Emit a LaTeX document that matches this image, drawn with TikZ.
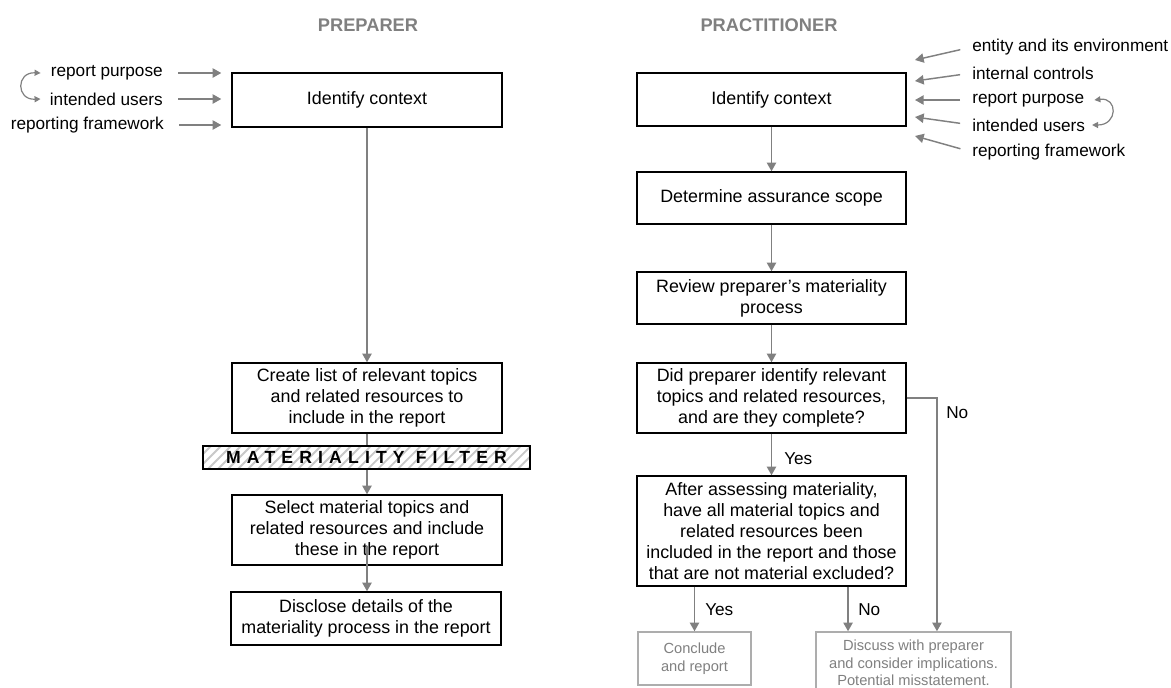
\documentclass[tikz,border=0pt]{standalone}
\usepackage{fontspec}
\setmainfont{Liberation Sans}
\usetikzlibrary{arrows.meta,patterns.meta}
\definecolor{ag}{HTML}{808080}
\definecolor{lg}{HTML}{ADADAD}
\definecolor{hg}{HTML}{C8C8C8}
\begin{document}
\begin{tikzpicture}[x=0.75pt,y=-0.75pt,
  box/.style={draw=black, line width=1.1pt, align=center, inner sep=0pt, font=\fontsize{13.4}{15.7}\selectfont},
  lbox/.style={draw=lg, line width=1.1pt, text=ag, align=center, inner sep=0pt, font=\fontsize{11}{13.2}\selectfont},
  arr/.style={draw=ag, line width=1.1pt, -{Triangle[length=6.5pt,width=7pt]}},
  seg/.style={draw=ag, line width=1.1pt},
  curv/.style={draw=ag, line width=0.9pt, {Triangle[length=4.5pt,width=4.5pt]}-{Triangle[length=4.5pt,width=4.5pt]}},
  lbl/.style={inner sep=0pt, font=\fontsize{12.9}{15}\selectfont},
  ttl/.style={text=ag, inner sep=0pt, font=\bfseries\fontsize{13.7}{16}\selectfont}]
\useasboundingbox (0,0) rectangle (1171,687);
\clip (0,0) rectangle (1171,687);

% titles
\node[ttl] (tprep) at (368,25) {PREPARER};
\node[ttl] (tprac) at (769,25) {PRACTITIONER};

% ---------- PREPARER ----------
\node[box, minimum width=202.5pt, minimum height=40.5pt] (lid) at (367,100) {Identify context};
\node[lbl, anchor=east] (lt1) at (163,73) {report purpose};
\node[lbl, anchor=east] (lt2) at (163,99) {intended users};
\node[lbl, anchor=east] (lt3) at (164,125) {reporting framework};
\draw[arr, shorten <=11.25pt, shorten >=7.5pt] (lt1.east) -- (lt1.east -| lid.west);
\draw[arr, shorten <=11.25pt, shorten >=7.5pt] (lt2.east) -- (lt2.east -| lid.west);
\draw[arr, shorten <=11.25pt, shorten >=7.5pt] (lt3.east) -- (lt3.east -| lid.west);
\draw[curv] ([xshift=-7.5pt]lt1.west) .. controls (16,72) and (16,100) .. ([xshift=-6.8pt]lt2.west);

\node[box, minimum width=202.5pt, minimum height=52.5pt] (lcr) at (367,398)
  {Create list of relevant topics\\and related resources to\\include in the report};
\node[draw=black, line width=1.1pt, inner sep=0pt, minimum width=245.25pt, minimum height=17.25pt,
  pattern={Lines[angle=45,distance=5.3pt,line width=1.4pt]}, pattern color=hg] (flt) at (366.5,457.5)
  {\bfseries\fontsize{13.2}{14}\selectfont\addfontfeature{LetterSpace=35}MATERIALITY FILTER};
\node[box, minimum width=202.5pt, minimum height=52.5pt] (lsel) at (367,530)
  {Select material topics and\\related resources and include\\these in the report};
\node[box, minimum width=202.5pt, minimum height=39.75pt] (ldis) at (366,618.5)
  {Disclose details of the\\materiality process in the report};

\draw[arr] (lid.south) -- (lcr.north);
\draw[seg] (lcr.south) -- (lcr.south |- flt.north);
\draw[arr] (lcr.south |- flt.south) -- (lsel.north);
\draw[arr] ([yshift=15pt]lsel.south) -- (lsel.south |- ldis.north);

% ---------- PRACTITIONER ----------
\node[box, minimum width=201.75pt, minimum height=39.75pt] (rid) at (771.5,99.5) {Identify context};
\node[box, minimum width=201.75pt, minimum height=39pt] (rdet) at (771.5,198) {Determine assurance scope};
\node[box, minimum width=201.75pt, minimum height=39pt] (rrev) at (771.5,298)
  {Review preparer’s materiality\\process};
\node[box, minimum width=201.75pt, minimum height=52.5pt] (rdid) at (771.5,398)
  {Did preparer identify relevant\\topics and related resources,\\and are they complete?};
\node[box, minimum width=201.75pt, minimum height=82.5pt] (raft) at (771.5,531)
  {After assessing materiality,\\have all material topics and\\related resources been\\included in the report and those\\that are not material excluded?};
\node[lbox, minimum width=84.75pt, minimum height=39.75pt] (rcon) at (694.5,658.5) {Conclude\\and report};
\node[lbox, minimum width=146.25pt, minimum height=46.5pt] (rdis) at (913.5,663)
  {Discuss with preparer\\and consider implications.\\Potential misstatement.};

\draw[arr] (rid.south) -- (rdet.north);
\draw[arr] (rdet.south) -- (rrev.north);
\draw[arr] (rrev.south) -- (rdid.north);
\draw[arr] (rdid.south) -- (raft.north);
\node[lbl, anchor=west] (y1) at (784,459) {Yes};
\draw[arr] (rcon.north |- raft.south) -- (rcon.north);
\node[lbl, anchor=west] (y2) at (705,610) {Yes};
\draw[arr] ([xshift=-49.1pt]rdis.north |- raft.south) -- ([xshift=-49.1pt]rdis.north);
\node[lbl, anchor=west] (n1) at (858,610) {No};
\draw[arr] (rdid.east) -| ([xshift=17.6pt]rdis.north);
\node[lbl, anchor=west] (n2) at (946,413) {No};

% inputs on the right
\node[lbl, anchor=west] (rt1) at (972,47) {entity and its environment};
\node[lbl, anchor=west] (rt2) at (972,73) {internal controls};
\node[lbl, anchor=west] (rt3) at (972,100) {report purpose};
\node[lbl, anchor=west] (rt4) at (972,125) {intended users};
\node[lbl, anchor=west] (rt5) at (972,152) {reporting framework};
\coordinate (e1) at (915,60);
\coordinate (e2) at (915,81);
\coordinate (e3) at (915,100);
\coordinate (e4) at (915,117);
\coordinate (e5) at (915,136);
\draw[arr, shorten <=9pt] (rt1.west) -- (e1);
\draw[arr, shorten <=9pt] (rt2.west) -- (e2);
\draw[arr, shorten <=9pt] (rt3.west) -- (e3);
\draw[arr, shorten <=9pt] (rt4.west) -- (e4);
\draw[arr, shorten <=9pt] (rt5.west) -- (e5);
\draw[curv] ([xshift=7.5pt]rt3.east) .. controls (1118,97) and (1118,125) .. ([xshift=5pt]rt4.east);
\end{tikzpicture}
\end{document}
